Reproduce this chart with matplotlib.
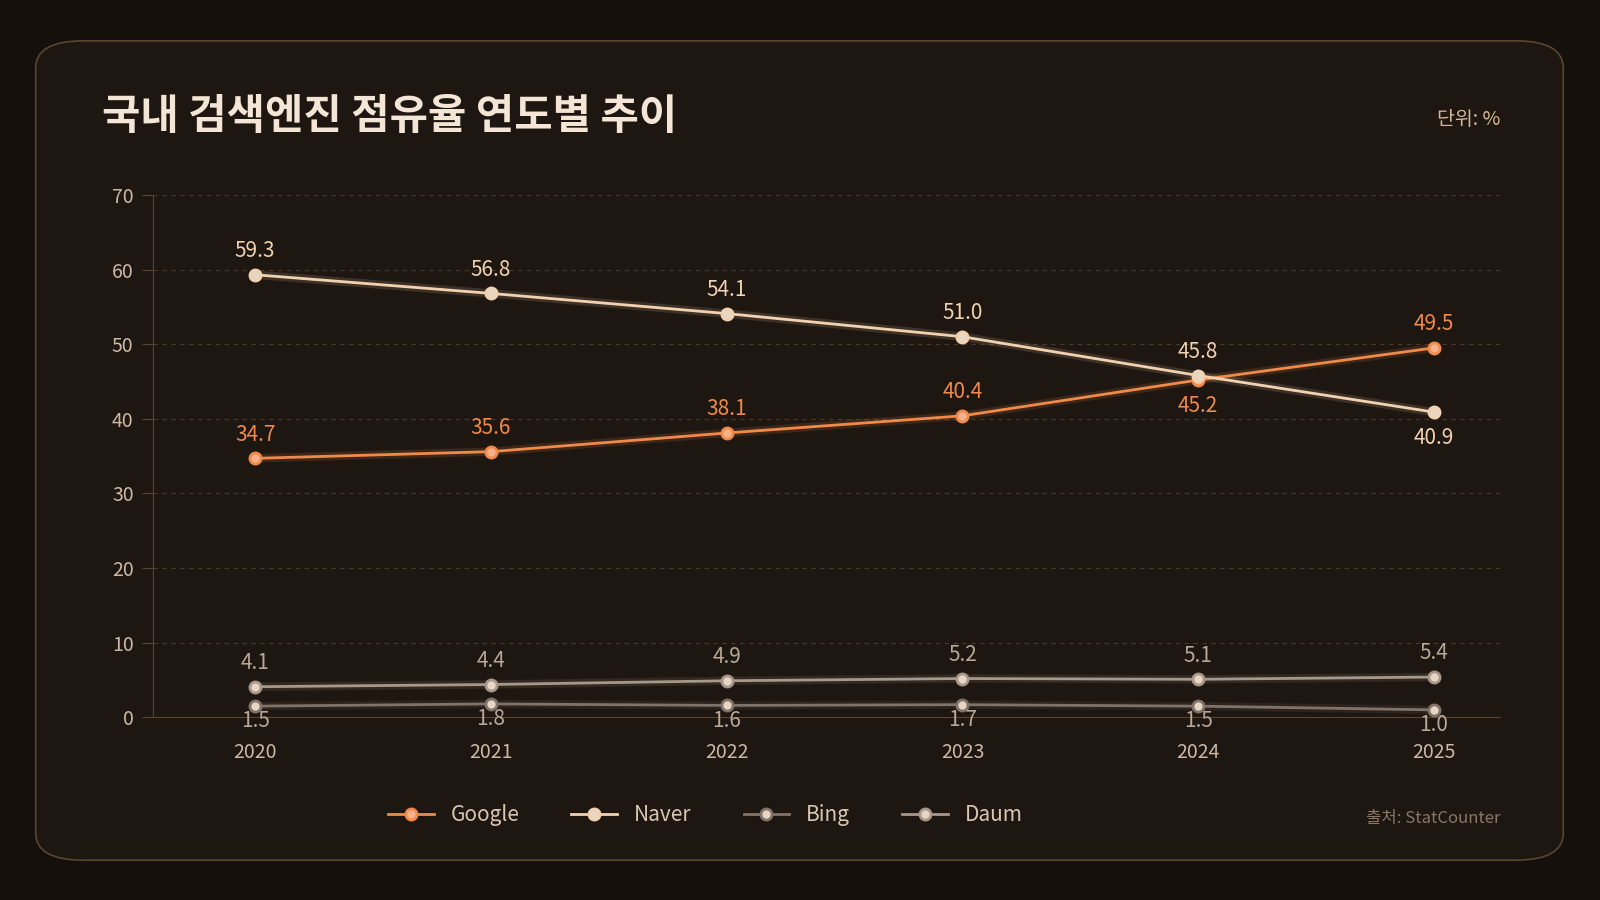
import matplotlib
matplotlib.use("Agg")
import matplotlib.pyplot as plt
from matplotlib.patches import FancyBboxPatch

plt.rcParams['font.family'] = ['Noto Sans CJK KR', 'DejaVu Sans']

years = [2020, 2021, 2022, 2023, 2024, 2025]
google = [34.7, 35.6, 38.1, 40.4, 45.2, 49.5]
naver = [59.3, 56.8, 54.1, 51.0, 45.8, 40.9]
bing = [1.5, 1.8, 1.6, 1.7, 1.5, 1.0]
daum = [4.1, 4.4, 4.9, 5.2, 5.1, 5.4]
yticks = [0, 10, 20, 30, 40, 50, 60, 70]

bg = '#15100c'
fig = plt.figure(figsize=(16, 9), dpi=100, facecolor=bg)
W, H = 1568, 882
panel = FancyBboxPatch((35/W, 1-843/H), (1532-35)/W, (843-40)/H,
                       boxstyle="round,pad=0,rounding_size=0.03",
                       transform=fig.transFigure, facecolor='#1e1610',
                       edgecolor='#5a4630', linewidth=1.2, zorder=-10)
fig.patches.append(panel)

ax = fig.add_axes([150/W, 1-703/H, 1320/W, 512/H])
ax.set_zorder(2)
ax.set_facecolor('none')
ax.set_xlim(2019.567, 2025.28)
ax.set_ylim(0, 70)
ax.set_yticks(yticks)
ax.set_xticks(years)
ax.tick_params(colors='#cbb9a6', labelsize=14, length=0)
ax.tick_params(axis='x', pad=18)
ax.tick_params(axis='y', length=8, color='#5a4630', pad=6)
for s in ['top', 'right']:
    ax.spines[s].set_visible(False)
ax.spines['left'].set_color('#5a4630')
ax.spines['bottom'].set_color('#5a4630')
ax.grid(axis='y', color='#4a3a2a', linestyle=(0, (4, 4)), linewidth=0.8)

series = [
    ('Google', google, '#f08a4b', ['above']*4 + ['below', 'above']),
    ('Naver', naver, '#f0d2b0', ['above']*5 + ['below']),
    ('Bing', bing, '#80746a', ['below']*6),
    ('Daum', daum, '#a8988a', ['above']*6),
]
for name, vals, col, pos in series:
    ax.plot(years, vals, color=col, lw=6, alpha=0.15, zorder=3)
    ax.plot(years, vals, color=col, lw=2, marker='o', markersize=8,
            markerfacecolor='#e8d6c4' if name != 'Google' else '#f6b08a',
            markeredgecolor=col, markeredgewidth=2, label=name, zorder=4)
    for x, v, p in zip(years, vals, pos):
        if name == 'Bing':
            dy = -11
        else:
            dy = 17 if p == 'above' else -19
        ax.annotate(f"{v:.1f}", (x, v), xytext=(0, dy), textcoords='offset points',
                    ha='center', va='center', fontsize=15,
                    color=col if name not in ('Bing', 'Daum') else '#b8a898', zorder=5)

ax.legend(loc='upper center', bbox_to_anchor=(0.41, -0.13), ncol=4,
          frameon=False, fontsize=15, labelcolor='#d8c6b2',
          handlelength=2.2, columnspacing=2.5)

fig.text(100/W, 1-115/H, '국내 검색엔진 점유율 연도별 추이', fontsize=30,
         fontweight='bold', color='#f4e6d6', va='center')
fig.text(1470/W, 1-117/H, '단위: %', fontsize=14, color='#d8b898', ha='right', va='center')
fig.text(1470/W, 1-802/H, '출처: StatCounter', fontsize=12, color='#8a7866', ha='right', va='center')

fig.savefig('out.png', facecolor=bg)
